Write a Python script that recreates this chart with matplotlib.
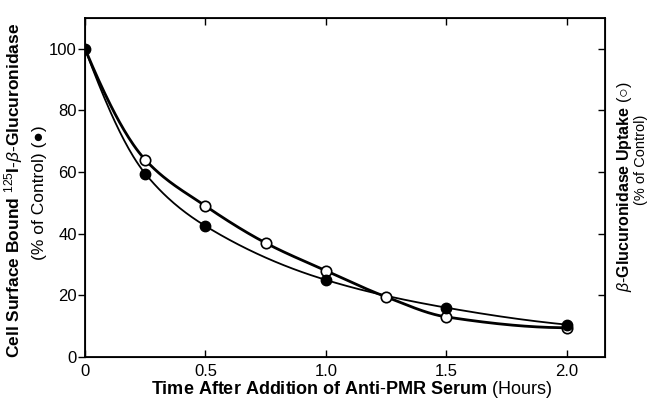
import numpy as np
import matplotlib
matplotlib.use("Agg")
import matplotlib.pyplot as plt

plt.rcParams["font.family"] = ["Liberation Sans", "DejaVu Sans"]
plt.rcParams["mathtext.fontset"] = "custom"
plt.rcParams["mathtext.rm"] = "Liberation Sans"
plt.rcParams["mathtext.bf"] = "Liberation Sans:bold"
plt.rcParams["mathtext.it"] = "Liberation Sans:italic"

# data
t_bound = [0, 0.25, 0.5, 1.0, 1.5, 2.0]
bound = [100, 59.5, 42.5, 25.0, 16.0, 10.5]
t_uptake = [0, 0.25, 0.5, 0.75, 1.0, 1.25, 1.5, 2.0]
uptake = [100, 64.0, 49.0, 37.0, 28.0, 19.5, 13.0, 9.5]
xticks = [0, 0.5, 1.0, 1.5, 2.0]
xticklabels = ["0", "0.5", "1.0", "1.5", "2.0"]
yticks = [0, 20, 40, 60, 80, 100]


def smooth(x, y, n=40):
    # monotone cubic hermite, used only to draw a smooth line through the points
    x = np.asarray(x, float)
    y = np.asarray(y, float)
    h = np.diff(x)
    d = np.diff(y) / h
    m = np.zeros_like(y)
    # three-point end slopes
    m[0] = ((2 * h[0] + h[1]) * d[0] - h[0] * d[1]) / (h[0] + h[1])
    m[-1] = ((2 * h[-1] + h[-2]) * d[-1] - h[-1] * d[-2]) / (h[-1] + h[-2])
    if m[-1] * d[-1] <= 0:
        m[-1] = 0
    for i in range(1, len(x) - 1):
        if d[i - 1] * d[i] > 0:
            w1 = 2 * h[i] + h[i - 1]
            w2 = h[i] + 2 * h[i - 1]
            m[i] = (w1 + w2) / (w1 / d[i - 1] + w2 / d[i])
    xs, ys = [], []
    for i in range(len(x) - 1):
        s = np.linspace(0, 1, n, endpoint=False)
        h00 = 2 * s**3 - 3 * s**2 + 1
        h10 = s**3 - 2 * s**2 + s
        h01 = -2 * s**3 + 3 * s**2
        h11 = s**3 - s**2
        xs.append(x[i] + s * h[i])
        ys.append(h00 * y[i] + h10 * h[i] * m[i] + h01 * y[i + 1] + h11 * h[i] * m[i + 1])
    xs.append([x[-1]])
    ys.append([y[-1]])
    return np.concatenate(xs), np.concatenate(ys)


fig = plt.figure(figsize=(6.49, 4.07), dpi=100)
ax = fig.add_axes([85 / 649, 50 / 407, 520 / 649, 339 / 407])

sx, sy = smooth(t_uptake, uptake)
ax.plot(sx, sy, color="black", lw=2.0, zorder=2)
sx, sy = smooth(t_bound, bound)
ax.plot(sx, sy, color="black", lw=1.3, zorder=2)

ax.plot(t_uptake[1:], uptake[1:], "o", ms=7.5, mfc="white", mec="black", mew=1.2, zorder=3)
ax.plot(t_bound, bound, "o", ms=7.5, mfc="black", mec="black", zorder=4)

ax.set_xlim(0, 2.158)
ax.set_ylim(0, 110)
ax.set_xticks(xticks)
ax.set_xticklabels(xticklabels)
ax.set_yticks(yticks)
ax.tick_params(axis="y", direction="out", length=5, width=1, labelsize=12, pad=1)
ax.tick_params(axis="x", direction="in", length=5, width=1, labelsize=12, pad=5, top=True)
for s in ax.spines.values():
    s.set_linewidth(1.3)

# right side ticks (no labels)
ax2 = ax.twinx()
ax2.set_ylim(0, 110)
ax2.set_yticks(yticks[1:])
ax2.set_yticklabels([])
ax2.tick_params(axis="y", direction="in", length=5, width=1)

fig.text(352 / 649, 0.042,
         r"$\bf{Time\ After\ Addition\ of\ Anti}$-$\bf{PMR\ Serum}$ (Hours)",
         ha="center", va="center", fontsize=13)

fig.text(14 / 649, 0.533,
         r"$\bf{Cell\ Surface\ Bound}$ $^{125}$$\bf{I}$-$\beta$-$\bf{Glucuronidase}$",
         rotation=90, ha="center", va="center", fontsize=12.5)
fig.text(40 / 649, 0.526, "(% of Control) (\u25cf)",
         rotation=90, ha="center", va="center", fontsize=12.5)

fig.text(625 / 649, 0.54, r"$\beta$-$\bf{Glucuronidase\ Uptake}$ " + "(\u25cb)",
         rotation=90, ha="center", va="center", fontsize=11.5)
fig.text(641 / 649, 0.607, "(% of Control)",
         rotation=90, ha="center", va="center", fontsize=10.5)

fig.savefig("out.png", dpi=100)
